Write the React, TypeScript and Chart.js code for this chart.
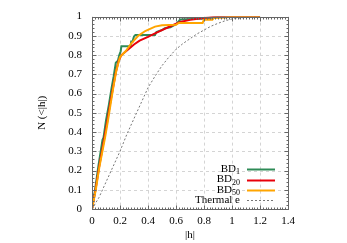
import React, { useEffect, useRef } from "react";
import { Chart, registerables } from "chart.js";
Chart.register(...registerables);

const xTicks = [0, 0.2, 0.4, 0.6, 0.8, 1, 1.2, 1.4];
const yTicks = [0, 0.1, 0.2, 0.3, 0.4, 0.5, 0.6, 0.7, 0.8, 0.9, 1];

const bd1X = [0, 0.022, 0.045, 0.06, 0.075, 0.082, 0.1, 0.12, 0.14, 0.155, 0.17, 0.185, 0.195, 0.205, 0.21, 0.276, 0.28, 0.29, 0.295, 0.3, 0.31, 0.36, 0.45, 0.46, 0.5, 0.52, 0.56, 0.6, 0.63, 0.8, 0.9, 1.0, 1.2];
const bd1Y = [0, 0.1, 0.22, 0.29, 0.36, 0.37, 0.46, 0.54, 0.63, 0.69, 0.76, 0.77, 0.8, 0.82, 0.846, 0.846, 0.87, 0.87, 0.885, 0.897, 0.905, 0.905, 0.905, 0.92, 0.93, 0.94, 0.945, 0.96, 0.985, 0.99, 0.998, 1, 1];

const bd20X = [0, 0.025, 0.05, 0.088, 0.11, 0.13, 0.15, 0.17, 0.19, 0.21, 0.26, 0.3, 0.34, 0.4, 0.45, 0.5, 0.56, 0.63, 0.7, 0.77, 0.85, 0.9, 1.2];
const bd20Y = [0, 0.1, 0.215, 0.37, 0.46, 0.55, 0.63, 0.71, 0.77, 0.8, 0.83, 0.855, 0.875, 0.895, 0.913, 0.93, 0.95, 0.972, 0.983, 0.99, 0.997, 1, 1];

const bd50X = [0, 0.027, 0.052, 0.093, 0.114, 0.134, 0.154, 0.174, 0.2, 0.24, 0.28, 0.33, 0.38, 0.45, 0.5, 0.6, 0.62, 0.79, 0.8, 0.86, 0.87, 0.95, 1.0, 1.2];
const bd50Y = [0, 0.1, 0.215, 0.37, 0.46, 0.55, 0.64, 0.72, 0.79, 0.82, 0.86, 0.9, 0.925, 0.948, 0.955, 0.958, 0.967, 0.967, 0.984, 0.984, 0.993, 0.995, 1, 1];

const thermalX = [0, 0.05, 0.1, 0.15, 0.2, 0.25, 0.3, 0.35, 0.4, 0.45, 0.5, 0.55, 0.6, 0.65, 0.7, 0.75, 0.8, 0.85, 0.9, 0.95, 1.0, 1.1, 1.2];
const thermalY = [0, 0.06, 0.14, 0.22, 0.3, 0.39, 0.47, 0.55, 0.63, 0.69, 0.745, 0.79, 0.83, 0.86, 0.885, 0.91, 0.93, 0.95, 0.965, 0.978, 0.988, 0.996, 1.0];

const legendItems = [
  { base: "BD", sub: "1", color: "#2e8b57", dash: [] as number[] },
  { base: "BD", sub: "20", color: "#e8000b", dash: [] as number[] },
  { base: "BD", sub: "50", color: "#ffa500", dash: [] as number[] },
  { base: "Thermal e", sub: "", color: "#777777", dash: [2, 2] },
];

const zip = (xs: number[], ys: number[]) => xs.map((x, i) => ({ x, y: ys[i] }));

const FONT = "'Liberation Serif', 'Times New Roman', serif";

const framePlugin = {
  id: "frame",
  beforeDatasetsDraw(chart: any) {
    const { ctx, chartArea: a, scales } = chart;
    ctx.save();
    ctx.strokeStyle = "#d4d4d4";
    ctx.lineWidth = 1;
    ctx.setLineDash([3, 3]);
    xTicks.forEach((t) => {
      const px = Math.round(scales.x.getPixelForValue(t)) + 0.5;
      ctx.beginPath();
      ctx.moveTo(px, a.top);
      ctx.lineTo(px, a.bottom);
      ctx.stroke();
    });
    yTicks.forEach((t) => {
      const py = Math.round(scales.y.getPixelForValue(t)) + 0.5;
      ctx.beginPath();
      ctx.moveTo(a.left, py);
      ctx.lineTo(a.right, py);
      ctx.stroke();
    });
    ctx.restore();
  },
  afterDatasetsDraw(chart: any) {
    const { ctx, chartArea: a, scales } = chart;
    ctx.save();
    ctx.strokeStyle = "#666666";
    ctx.lineWidth = 1;
    ctx.setLineDash([]);
    const L = Math.round(a.left) + 0.5, R = Math.round(a.right) + 0.5;
    const T = Math.round(a.top) + 0.5, B = Math.round(a.bottom) + 0.5;
    ctx.strokeRect(L, T, R - L, B - T);
    for (let i = 0; i <= 70; i++) {
      const v = i * 0.02;
      const px = Math.round(scales.x.getPixelForValue(v)) + 0.5;
      const len = i % 10 === 0 ? 4 : 2;
      ctx.beginPath();
      ctx.moveTo(px, B); ctx.lineTo(px, B - len);
      ctx.moveTo(px, T); ctx.lineTo(px, T + len);
      ctx.stroke();
    }
    for (let i = 0; i <= 50; i++) {
      const v = i * 0.02;
      const py = Math.round(scales.y.getPixelForValue(v)) + 0.5;
      const len = i % 5 === 0 ? 4 : 2;
      ctx.beginPath();
      ctx.moveTo(L, py); ctx.lineTo(L + len, py);
      ctx.moveTo(R, py); ctx.lineTo(R - len, py);
      ctx.stroke();
    }
    ctx.restore();
  },
  afterDraw(chart: any) {
    const { ctx, chartArea: a } = chart;
    ctx.save();
    const textRight = a.right - 48;
    const sampleL = a.right - 41, sampleR = a.right - 13;
    legendItems.forEach((it, i) => {
      const y = a.bottom - 39.7 + i * 10.3;
      ctx.fillStyle = "#000";
      ctx.textBaseline = "middle";
      ctx.font = `11px ${FONT}`;
      const bw = ctx.measureText(it.base).width;
      ctx.font = `8px ${FONT}`;
      const sw = it.sub ? ctx.measureText(it.sub).width : 0;
      const start = textRight - bw - sw;
      ctx.font = `11px ${FONT}`;
      ctx.textAlign = "left";
      ctx.fillText(it.base, start, y);
      if (it.sub) {
        ctx.font = `8px ${FONT}`;
        ctx.fillText(it.sub, start + bw, y + 3);
      }
      ctx.strokeStyle = it.color;
      ctx.lineWidth = it.dash.length ? 1 : 2;
      ctx.setLineDash(it.dash);
      ctx.beginPath();
      ctx.moveTo(sampleL, Math.round(y) + 0.5);
      ctx.lineTo(sampleR, Math.round(y) + 0.5);
      ctx.stroke();
    });
    ctx.restore();
  },
};

export default function App() {
  const ref = useRef<HTMLCanvasElement>(null);
  useEffect(() => {
    document.body.style.margin = "0";
    const chart = new Chart(ref.current as HTMLCanvasElement, {
      type: "line",
      data: {
        datasets: [
          { label: "BD50", data: zip(bd50X, bd50Y), borderColor: "#ffa500", borderWidth: 2, pointRadius: 0, tension: 0, fill: false },
          { label: "BD20", data: zip(bd20X, bd20Y), borderColor: "#e8000b", borderWidth: 2, pointRadius: 0, tension: 0, fill: false },
          { label: "BD1", data: zip(bd1X, bd1Y), borderColor: "#2e8b57", borderWidth: 2, pointRadius: 0, tension: 0, fill: false },
          { label: "Thermal e", data: zip(thermalX, thermalY), borderColor: "#777777", borderWidth: 1, borderDash: [2, 2], pointRadius: 0, tension: 0, fill: false },
        ],
      },
      options: {
        animation: false,
        responsive: false,
        layout: { padding: { left: 0, right: 59, top: 14, bottom: 0 } },
        plugins: { legend: { display: false }, tooltip: { enabled: false } },
        scales: {
          x: {
            type: "linear",
            min: 0,
            max: 1.4,
            grid: { display: false, drawTicks: false },
            border: { display: false },
            afterFit: (s: any) => { s.height = 34; },
            afterBuildTicks: (s: any) => { s.ticks = xTicks.map((v) => ({ value: v })); },
            ticks: {
              padding: 6,
              color: "#000",
              font: { family: FONT, size: 11 },
              maxRotation: 0,
              callback: (v: any) => String(parseFloat(Number(v).toFixed(1))),
            },
            title: { display: true, text: "|h|", color: "#000", font: { family: FONT, size: 11 }, padding: { top: 0, bottom: 1.4 } },
          },
          y: {
            type: "linear",
            min: 0,
            max: 1,
            grid: { display: false, drawTicks: false },
            border: { display: false },
            afterFit: (s: any) => { s.width = 92; },
            afterBuildTicks: (s: any) => { s.ticks = yTicks.map((v) => ({ value: v })); },
            ticks: {
              padding: 10,
              color: "#000",
              font: { family: FONT, size: 11 },
              callback: (v: any) => String(parseFloat(Number(v).toFixed(1))),
            },
            title: { display: true, text: "N (<|h|)", color: "#000", font: { family: FONT, size: 11 }, padding: { top: 36, bottom: 0 } },
          },
        },
      },
      plugins: [framePlugin],
    });
    return () => chart.destroy();
  }, []);
  return (
    <div style={{ position: "absolute", left: 0, top: 0, width: 347, height: 243, background: "#fff" }}>
      <canvas ref={ref} width={347} height={243} />
    </div>
  );
}
